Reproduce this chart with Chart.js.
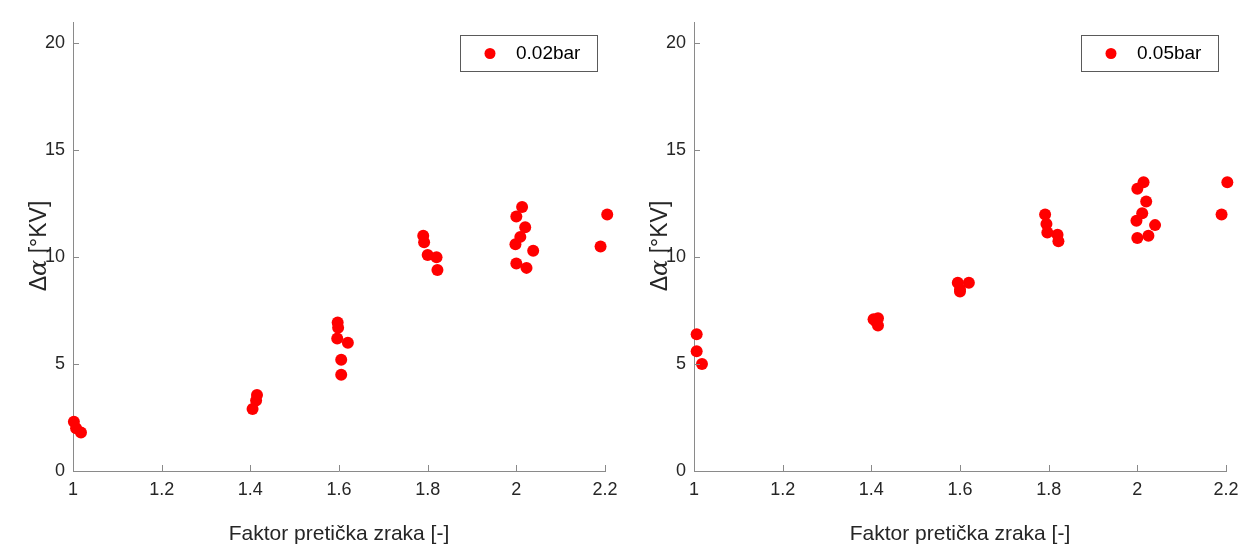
<!DOCTYPE html>
<html><head><meta charset="utf-8">
<script src="https://cdn.jsdelivr.net/npm/chart.js@4.4.1/dist/chart.umd.min.js"></script>
<style>
html,body{margin:0;padding:0;background:#fff;}
.panel{position:absolute;top:0;height:549px;}
#p1{left:0;width:628px;}
#p2{left:621px;width:635px;}
</style></head><body>
<div class="panel" id="p1"><canvas id="c1"></canvas></div>
<div class="panel" id="p2"><canvas id="c2"></canvas></div>
<script>
const xTicks = [1, 1.2, 1.4, 1.6, 1.8, 2, 2.2];
const xTickLabels = ['1', '1.2', '1.4', '1.6', '1.8', '2', '2.2'];
const yTicks = [0, 5, 10, 15, 20];
const yTickLabels = ['0', '5', '10', '15', '20'];

const seriesLabels = ['0.02bar', '0.05bar'];

const s1X = [1.002, 1.007, 1.018, 1.415, 1.413, 1.405, 1.597, 1.598, 1.596, 1.62, 1.605, 1.605, 1.79, 1.792, 1.8, 1.82, 1.822, 2.013, 2.0, 2.02, 2.009, 1.998, 2.038, 2.0, 2.023, 2.205, 2.19];
const s1Y = [2.3, 2.0, 1.8, 3.55, 3.3, 2.9, 6.95, 6.7, 6.2, 6.0, 5.2, 4.5, 11.0, 10.7, 10.1, 10.0, 9.4, 12.35, 11.9, 11.4, 10.95, 10.6, 10.3, 9.7, 9.5, 12.0, 10.5];

const s2X = [1.006, 1.006, 1.018, 1.405, 1.415, 1.41, 1.415, 1.595, 1.6, 1.62, 1.6, 1.792, 1.795, 1.797, 1.82, 1.822, 2.014, 2.0, 2.02, 2.011, 1.998, 2.04, 2.0, 2.025, 2.203, 2.19];
const s2Y = [6.4, 5.6, 5.0, 7.1, 7.15, 7.0, 6.8, 8.8, 8.5, 8.8, 8.4, 12.0, 11.55, 11.15, 11.05, 10.75, 13.5, 13.2, 12.6, 12.05, 11.7, 11.5, 10.9, 11.0, 13.5, 12.0];

const xTitle = 'Faktor pretička zraka [-]';
const yTitleParts = [['Δ', 'normal'], ['α', 'italic'], [' [°KV]', 'normal']];

const FONT = "'Liberation Sans', Arial, sans-serif";
const TEXT = '#262626';
const AXIS = '#8a8a8a';

const decor = {
  id: 'decor',
  afterDraw(chart) {
    const ctx = chart.ctx;
    const a = chart.chartArea;
    const xs = chart.scales.x, ys = chart.scales.y;
    ctx.save();
    ctx.strokeStyle = AXIS; ctx.lineWidth = 1;
    ctx.beginPath();
    xTicks.forEach(v => { const p = Math.round(xs.getPixelForValue(v)) + 0.5; ctx.moveTo(p, a.bottom); ctx.lineTo(p, a.bottom - 6); });
    yTicks.forEach(v => { const p = Math.round(ys.getPixelForValue(v)) + 0.5; ctx.moveTo(a.left, p); ctx.lineTo(a.left + 6, p); });
    ctx.stroke();
    ctx.fillStyle = TEXT;
    ctx.font = '21px ' + FONT;
    ctx.textAlign = 'center'; ctx.textBaseline = 'alphabetic';
    ctx.fillText(xTitle, (a.left + a.right) / 2, 540);
    ctx.save();
    ctx.translate(46, 246);
    ctx.rotate(-Math.PI / 2);
    const fonts = { normal: '23px ' + FONT, italic: "italic 24px 'DejaVu Serif', serif" };
    let total = 0;
    yTitleParts.forEach(([t, s]) => { ctx.font = fonts[s]; total += ctx.measureText(t).width; });
    let x = -total / 2;
    ctx.textAlign = 'left';
    yTitleParts.forEach(([t, s]) => { ctx.font = fonts[s]; ctx.fillText(t, x, 0); x += ctx.measureText(t).width; });
    ctx.restore();
    const ds = chart.data.datasets[0];
    const bx = 460.5, by = 35.5, bw = 137, bh = 36;
    ctx.fillStyle = '#fff';
    ctx.fillRect(bx, by, bw, bh);
    ctx.strokeStyle = '#5a5a5a'; ctx.lineWidth = 1;
    ctx.strokeRect(bx, by, bw, bh);
    ctx.fillStyle = ds.backgroundColor;
    ctx.beginPath(); ctx.arc(490, 53.5, 5.5, 0, Math.PI * 2); ctx.fill();
    ctx.fillStyle = '#000';
    ctx.font = '19px ' + FONT;
    ctx.textAlign = 'left'; ctx.textBaseline = 'middle';
    ctx.fillText(ds.label, 516, 54);
    ctx.restore();
  }
};

function makeChart(id, label, xs, ys, rightPad) {
  const pts = xs.map((v, i) => ({ x: v, y: ys[i] }));
  return new Chart(document.getElementById(id), {
    type: 'scatter',
    data: { datasets: [{ label, data: pts, backgroundColor: '#ff0000', borderWidth: 0, pointRadius: 6, pointHoverRadius: 6, clip: false }] },
    options: {
      responsive: true, maintainAspectRatio: false, animation: false,
      layout: { padding: { top: 22, right: rightPad, left: 0, bottom: 0 } },
      plugins: { legend: { display: false }, tooltip: { enabled: false } },
      scales: {
        x: {
          type: 'linear', min: 1, max: 2.2,
          afterBuildTicks: s => { s.ticks = xTicks.map(v => ({ value: v })); },
          afterFit: s => { s.height = 78; },
          ticks: { padding: 8, font: { size: 18, family: FONT }, color: TEXT, maxRotation: 0,
                   callback: (v, i) => xTickLabels[i] },
          grid: { display: false, tickLength: 0 },
          border: { display: true, color: AXIS, width: 1 }
        },
        y: {
          type: 'linear', min: 0, max: 21,
          afterBuildTicks: s => { s.ticks = yTicks.map(v => ({ value: v })); },
          afterFit: s => { s.width = 73; },
          ticks: { padding: 8, font: { size: 18, family: FONT }, color: TEXT,
                   callback: (v, i) => yTickLabels[i] },
          grid: { display: false, tickLength: 0 },
          border: { display: true, color: AXIS, width: 1 }
        }
      }
    },
    plugins: [decor]
  });
}

makeChart('c1', seriesLabels[0], s1X, s1Y, 23);
makeChart('c2', seriesLabels[1], s2X, s2Y, 30);
</script>
</body></html>
